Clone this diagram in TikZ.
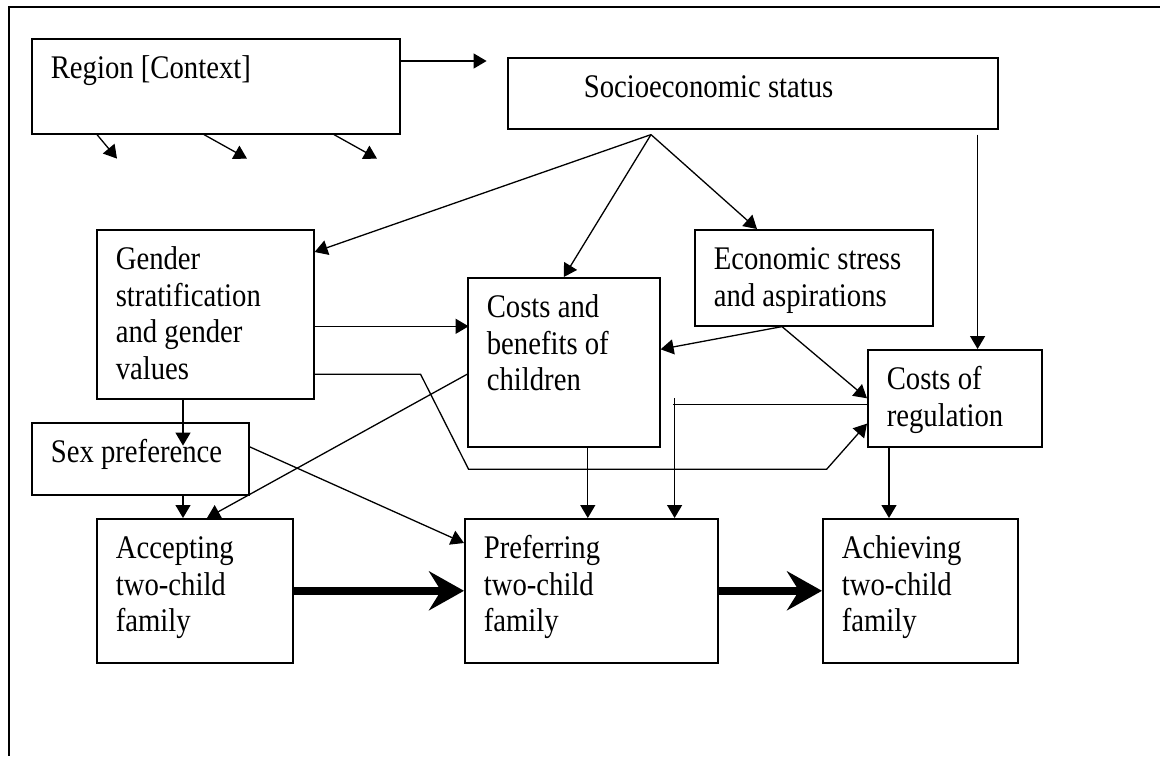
\documentclass[tikz,border=0pt]{standalone}
\usepackage{fontspec}
\setmainfont{Liberation Serif}[FakeStretch=0.87]
\usetikzlibrary{arrows.meta,calc}

\newcommand{\stagetext}[3]{\parbox[c][#2][t]{#1}{\raggedright\strut #3}}

\begin{document}
\begin{tikzpicture}[x=1pt,y=-1pt,
  stage/.style={draw,line width=1.6pt,anchor=north west,inner xsep=19pt,inner ysep=14.5pt,font=\fontsize{33}{36.5}\selectfont},
  arr/.style={line width=1.3pt,-{Triangle[length=13pt,width=15pt]}},
  bigarr/.style={line width=8pt,-{Stealth[length=35pt,width=39pt,inset=12pt]}}]
\useasboundingbox (0,0) rectangle (1160,756);
% frame
\draw[line width=1.5pt] (1160,7) -- (9,7) -- (9,756);
% boxes
\node[stage] (region) at (31,38) {\stagetext{330pt}{66pt}{Region [Context]}};
\node[stage,inner xsep=76pt] (ses) at (507,57) {\stagetext{338pt}{42pt}{Socioeconomic status}};
\node[stage] (gender) at (96,229) {\stagetext{179pt}{140pt}{Gender\\stratification\\and gender\\values}};
\node[stage] (econ) at (694,229) {\stagetext{200pt}{67pt}{Economic stress\\and aspirations}};
\node[stage] (cb) at (467,277) {\stagetext{154pt}{140pt}{Costs and\\benefits of\\children}};
\node[stage] (creg) at (867,349) {\stagetext{136pt}{68pt}{Costs of\\regulation}};
\node[stage] (sexpref) at (31,422) {\stagetext{179pt}{43pt}{Sex preference}};
\node[stage] (accept) at (96,518) {\stagetext{158pt}{115pt}{Accepting\\two-child\\family}};
\node[stage] (prefer) at (464,518) {\stagetext{215pt}{115pt}{Preferring\\two-child\\family}};
\node[stage] (achieve) at (822,518) {\stagetext{157pt}{115pt}{Achieving\\two-child\\family}};
% taps
\coordinate (sesfork) at ([xshift=144pt,yshift=-5pt]ses.south west);
\coordinate (sesr) at ([xshift=-65pt]creg.north east);
\coordinate (cbtap) at ([xshift=24pt]cb.south);
\coordinate (sextap) at ([xshift=87pt]accept.north west);
\coordinate (regtap) at ([xshift=-44pt]prefer.north east);
\coordinate (achtap) at ([xshift=22pt]creg.south west);
% region
\draw[arr] ([yshift=-23pt]region.north east) -- ++(86,0);
\foreach \dx/\ex in {66/20,173/43,303/43}
  \draw[arr] ([xshift=\dx pt]region.south west) -- ++(\ex,24);
% ses
\draw[arr] (sesfork) -- ([yshift=-23pt]gender.north east);
\draw[arr] (sesfork) -- (cb.north);
\draw[arr] (sesfork) -- ([xshift=63pt]econ.north west);
\draw[arr] (sesr |- sesfork) -- (sesr);
% econ
\draw[arr] ([xshift=88pt]econ.south west) -- ([yshift=13pt]cb.east);
\draw[arr] ([xshift=88pt]econ.south west) -- (creg.west);
% gender
\draw[arr] ([yshift=-12pt]gender.east) -- ++(154,0);
\draw[arr] ([yshift=-60pt]gender.east) -- ++(106,0) -- ++(48,95) -- ++(358,0) -- ([yshift=24pt]creg.south west);
\draw[arr] (sextap |- gender.south) -- ++(0,46);
% costs and benefits
\draw[arr] ([yshift=-12pt]cb.west) -- ([xshift=111pt]accept.north west);
\draw[arr] (cbtap) -- (cbtap |- prefer.north);
% sex preference
\draw[arr] (sextap |- sexpref.south) -- (sextap);
\draw[arr] ([yshift=12pt]sexpref.east) -- ([yshift=-25pt]prefer.north west);
% regulation
\draw[line width=1.3pt] ([yshift=-6pt]creg.west) -- ++(-194,0);
\draw[arr] (regtap |- creg.west) -- (regtap);
\draw[arr] (achtap) -- (achtap |- achieve.north);
% main path
\draw[bigarr] (accept.east) -- (prefer.west);
\draw[bigarr] (prefer.east) -- (achieve.west);
\end{tikzpicture}
\end{document}
